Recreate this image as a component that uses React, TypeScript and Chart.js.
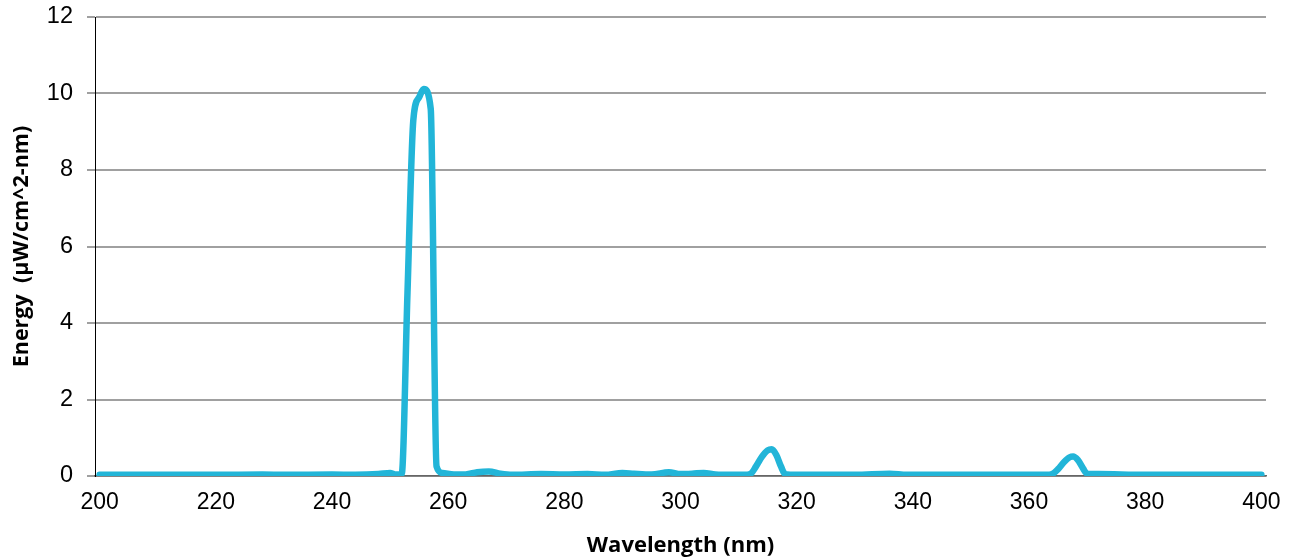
import React, { useEffect, useRef } from "react";
import { Chart, registerables } from "chart.js";

Chart.register(...registerables);

const wavelengths = [
  200, 210, 220, 228, 232, 240, 244, 248, 250, 251, 252, 253, 254, 255, 255.8, 257, 258, 259, 261, 263,
  265, 267, 269, 271, 276, 280, 284, 287, 290, 292, 295, 298, 300, 302, 304, 306, 309, 311, 312, 313,
  314, 315, 315.7, 316.5, 317.3, 318, 320, 330, 336, 339, 350, 360, 363, 364, 365, 366, 367, 367.6,
  368.4, 369.3, 370, 372, 380, 390, 400,
];
const energy = [
  0.03, 0.03, 0.03, 0.04, 0.03, 0.04, 0.03, 0.05, 0.08, 0.04, 0.05, 4.8, 9.3, 9.9, 10.12, 9.6, 0.25, 0.08, 0.04, 0.04,
  0.1, 0.12, 0.06, 0.03, 0.05, 0.04, 0.05, 0.03, 0.08, 0.06, 0.04, 0.1, 0.05, 0.06, 0.08, 0.04, 0.03, 0.03, 0.05, 0.25,
  0.5, 0.67, 0.7, 0.55, 0.25, 0.05, 0.03, 0.03, 0.06, 0.03, 0.03, 0.03, 0.03, 0.05, 0.18, 0.36, 0.49, 0.51,
  0.42, 0.2, 0.06, 0.05, 0.03, 0.03, 0.03,
];
const xTickValues = [200, 220, 240, 260, 280, 300, 320, 340, 360, 380, 400];
const yTickValues = [0, 2, 4, 6, 8, 10, 12];
const xTitle = "Wavelength (nm)";
const yTitle = "Energy  (µW/cm^2-nm)";

export default function App() {
  const ref = useRef<HTMLCanvasElement | null>(null);

  useEffect(() => {
    if (!ref.current) return;
    const chart = new Chart(ref.current, {
      type: "line",
      data: {
        datasets: [
          {
            data: wavelengths.map((w, i) => ({ x: w, y: energy[i] })),
            borderColor: "#22B5D8",
            borderWidth: 6.5,
            pointRadius: 0,
            borderCapStyle: "round",
            borderJoinStyle: "round",
            cubicInterpolationMode: "monotone",
            fill: false,
          },
        ],
      },
      options: {
        animation: false,
        responsive: false,
        layout: { padding: { top: 17, right: 30, left: 0, bottom: 0 } },
        plugins: { legend: { display: false }, tooltip: { enabled: false } },
        scales: {
          x: {
            type: "linear",
            min: 199.2,
            max: 400.8,
            afterBuildTicks: (scale: any) => {
              scale.ticks = xTickValues.map((v) => ({ value: v }));
            },
            afterFit: (scale: any) => {
              scale.height = 84;
              scale.paddingLeft = 0;
              scale.paddingRight = 0;
            },
            grid: { display: false, drawTicks: false },
            border: { display: true, color: "#666666", width: 1.5 },
            ticks: {
              color: "#000",
              font: { family: "'Liberation Sans', Arial", size: 23 },
              padding: 13,
              maxRotation: 0,
              autoSkip: false,
              callback: (v: any) => String(v),
            },
            title: {
              display: true,
              text: xTitle,
              color: "#000",
              font: { family: "'Open Sans'", size: 22, weight: "bold" },
              padding: { top: 0, bottom: 1 },
            },
          },
          y: {
            min: 0,
            max: 12,
            afterBuildTicks: (scale: any) => {
              scale.ticks = yTickValues.map((v) => ({ value: v }));
            },
            afterFit: (scale: any) => {
              scale.width = 95;
              scale.paddingTop = 0;
              scale.paddingBottom = 0;
            },
            grid: { color: "#a0a0a0", lineWidth: 2, tickLength: 8, drawTicks: true },
            border: { display: true, color: "#000", width: 1 },
            ticks: {
              color: "#000",
              font: { family: "'Liberation Sans', Arial", size: 23.5 },
              padding: 14,
              callback: (v: any) => String(v),
            },
            title: {
              display: true,
              text: yTitle,
              color: "#000",
              font: { family: "'Open Sans'", size: 21.5, weight: "bold" },
              padding: { top: 9, bottom: 0 },
            },
          },
        },
      },
    });
    return () => chart.destroy();
  }, []);

  return (
    <div style={{ position: "absolute", left: 0, top: 0, width: 1296, height: 560, background: "#fff" }}>
      <canvas ref={ref} width={1296} height={560} />
    </div>
  );
}
